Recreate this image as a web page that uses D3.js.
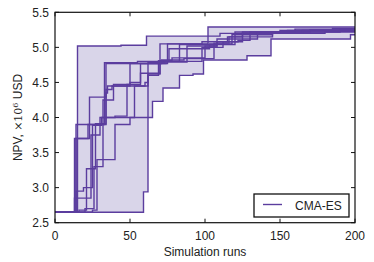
<!DOCTYPE html>
<html><head><meta charset="utf-8">
<script src="https://cdn.jsdelivr.net/npm/d3@7"></script>
<style>body{margin:0;background:#fff}svg{display:block}text{font-family:"Liberation Sans",Arial,sans-serif;fill:#222}</style>
</head><body>
<svg id="c" width="374" height="262"></svg>
<script>
// Each run: step points [simulation run, best NPV (1e6 USD)]
const run1 = [[0,2.65],[15,5.02],[44,5.03],[61,5.16],[110,5.2],[150,5.24],[185,5.27]];
const run2 = [[0,2.65],[13,3.7],[23,4.29],[34,4.77],[74,4.8],[83,5.04],[120,5.22],[160,5.26]];
const run3 = [[0,2.65],[14,3.9],[27,3.91],[34,4.4],[38,4.45],[50,4.77],[75,5.05],[102,5.29]];
const run4 = [[0,2.65],[14,2.95],[19,3.0],[25,3.89],[31,4.0],[40,4.02],[48,4.47],[57,4.77],[71,4.82],[86,4.84],[106,5.06],[116,5.15],[130,5.22],[170,5.25]];
const run5 = [[0,2.65],[16,2.68],[21,3.27],[27,3.9],[33,4.78],[55,4.8],[98,5.0],[112,5.08],[125,5.2],[155,5.24]];
const run6 = [[0,2.65],[13,2.85],[24,3.75],[30,4.0],[43,4.0],[53,4.45],[62,4.62],[70,4.8],[76,4.98],[103,5.05],[118,5.18],[145,5.22]];
const run7 = [[0,2.65],[25,2.68],[28,3.4],[40,3.9],[50,4.0],[65,4.23],[72,4.42],[83,4.6],[92,4.62],[99,4.82],[128,4.88],[144,5.12],[197,5.18]];
const run8 = [[0,2.65],[59,2.94],[62,4.6],[69,4.81],[78,4.85],[100,5.02],[108,5.08],[122,5.1],[130,5.15],[145,5.2],[180,5.23]];
const run9 = [[0,2.65],[20,2.7],[26,3.3],[32,4.25],[39,4.47],[50,4.5],[57,4.63],[70,5.05],[98,5.08],[115,5.15],[125,5.22],[190,5.26]];
const run10 = [[0,2.65],[14,3.7],[22,3.9],[34,4.35],[35,4.45],[60,4.5],[62,4.78],[73,4.79],[88,5.02],[108,5.12],[135,5.2],[165,5.24]];
const runs = [run1,run2,run3,run4,run5,run6,run7,run8,run9,run10];
const xTicks = [0,50,100,150,200];
const yTicks = [2.5,3.0,3.5,4.0,4.5,5.0,5.5];
const seriesName = "CMA-ES";

const L=55,R=355,T=12.3,B=222.7;
const x=d3.scaleLinear().domain([0,200]).range([L,R]);
const y=d3.scaleLinear().domain([2.5,5.5]).range([B,T]);
const svg=d3.select("#c");
const lineCol="#5b3d9e", fillCol="#d9d5e9";

function valAt(r,t){let v=r[0][1];for(const p of r){if(p[0]<=t)v=p[1];else break;}return v;}
const grid=d3.range(0,201);
const env=grid.map(t=>{const vs=runs.map(r=>valAt(r,t));return {t,lo:d3.min(vs),hi:d3.max(vs)};});

const g=svg.append("g");
g.append("path").datum(env)
 .attr("d",d3.area().curve(d3.curveStepAfter).x(d=>x(d.t)).y0(d=>y(d.lo)).y1(d=>y(d.hi)))
 .attr("fill",fillCol).attr("stroke","none");

const line=d3.line().curve(d3.curveStepAfter).x(d=>x(d[0])).y(d=>y(d[1]));
runs.forEach(r=>{
  const pts=r.concat([[200,r[r.length-1][1]]]);
  g.append("path").datum(pts).attr("d",line).attr("fill","none")
   .attr("stroke",lineCol).attr("stroke-width",1.4);
});

svg.append("rect").attr("x",L).attr("y",T).attr("width",R-L).attr("height",B-T)
 .attr("fill","none").attr("stroke","#111").attr("stroke-width",1.2);

const tk=svg.append("g").attr("stroke","#111").attr("stroke-width",1);
xTicks.forEach(v=>{
  tk.append("line").attr("x1",x(v)).attr("x2",x(v)).attr("y1",B).attr("y2",B-4);
  tk.append("line").attr("x1",x(v)).attr("x2",x(v)).attr("y1",T).attr("y2",T+4);
});
yTicks.forEach(v=>{
  tk.append("line").attr("x1",L).attr("x2",L+4).attr("y1",y(v)).attr("y2",y(v));
  tk.append("line").attr("x1",R).attr("x2",R-4).attr("y1",y(v)).attr("y2",y(v));
});
svg.append("g").selectAll("text").data(xTicks).join("text")
 .attr("x",d=>x(d)).attr("y",B+17).attr("text-anchor","middle").attr("font-size",12).text(d=>d);
svg.append("g").selectAll("text").data(yTicks).join("text")
 .attr("x",L-6).attr("y",d=>y(d)+4.5).attr("text-anchor","end").attr("font-size",12).text(d=>d.toFixed(1));

svg.append("text").attr("x",(L+R)/2).attr("y",256).attr("text-anchor","middle").attr("font-size",12).text("Simulation runs");
const yl=svg.append("text").attr("transform",`translate(22,${(T+B)/2}) rotate(-90)`).attr("text-anchor","middle").attr("font-size",12);
yl.append("tspan").text("NPV, ");
yl.append("tspan").attr("font-family","DejaVu Serif").attr("font-size",11).text("×10");
yl.append("tspan").attr("font-family","DejaVu Serif").attr("font-size",8).attr("dy",-4).text("6");
yl.append("tspan").attr("dy",4).text(" USD");

svg.append("rect").attr("x",254).attr("y",194).attr("width",95).attr("height",23)
 .attr("fill","#fff").attr("stroke","#111").attr("stroke-width",1.3);
svg.append("line").attr("x1",263).attr("x2",282).attr("y1",204.5).attr("y2",204.5).attr("stroke",lineCol).attr("stroke-width",1.4);
svg.append("text").attr("x",295).attr("y",209.5).attr("font-size",12).text(seriesName);
</script></body></html>
